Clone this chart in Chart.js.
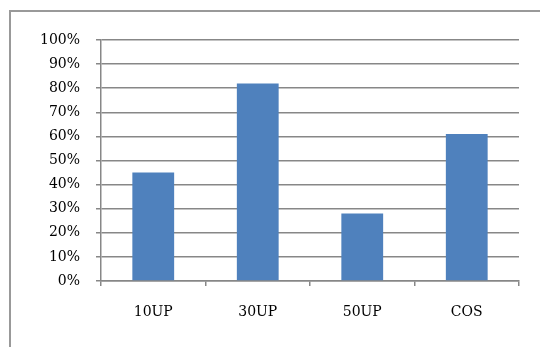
<!DOCTYPE html>
<html>
<head>
<meta charset="utf-8">
<script src="https://cdn.jsdelivr.net/npm/chart.js@4"></script>
<style>
  html, body { margin: 0; padding: 0; background: #fff; }
  #wrap { position: relative; width: 540px; height: 347px; overflow: hidden; }
  #frame { position: absolute; left: 9px; top: 10px; width: 600px; height: 400px; border: 2px solid #999; box-sizing: border-box; }
  canvas { position: absolute; left: 0; top: 0; }
</style>
</head>
<body>
<div id="wrap">
  <div id="frame"></div>
  <canvas id="myChart" width="540" height="347"></canvas>
</div>
<script>
var categorie = ["10UP", "30UP", "50UP", "COS"]
var valori = [45, 82, 28, 61]
var tickY = [0, 10, 20, 30, 40, 50, 60, 70, 80, 90, 100]

var grigio = '#878787'
var fontTesto = { family: 'DejaVu Serif', size: 14 }

const ctx = document.getElementById('myChart').getContext('2d')
var myChart = new Chart(ctx, {
    type: 'bar',
    data: {
        labels: categorie,
        datasets: [{
            data: valori,
            backgroundColor: '#4f81bd',
            borderWidth: 0,
            barPercentage: 0.4,
            categoryPercentage: 1
        }]
    },
    options: {
        responsive: false,
        animation: false,
        layout: { padding: { top: 40, right: 21, left: 0, bottom: 0 } },
        plugins: { legend: { display: false }, tooltip: { enabled: false } },
        scales: {
            x: {
                grid: { offset: true, drawOnChartArea: false, drawTicks: true, tickLength: 5, color: grigio, lineWidth: 1.5 },
                border: { display: true, color: grigio, width: 1.5 },
                ticks: { color: '#000', font: fontTesto, padding: 18 },
                afterFit: function (s) { s.height = 66 }
            },
            y: {
                min: 0,
                max: 100,
                afterBuildTicks: function (s) { s.ticks = tickY.map(function (v) { return { value: v } }) },
                grid: { color: grigio, lineWidth: 1.5, tickLength: 5 },
                border: { display: true, color: grigio, width: 1.5 },
                ticks: {
                    color: '#000',
                    font: fontTesto,
                    padding: 16,
                    callback: function (v) { return v + '%' }
                },
                afterFit: function (s) { s.width = 101 }
            }
        }
    }
})
</script>
</body>
</html>
